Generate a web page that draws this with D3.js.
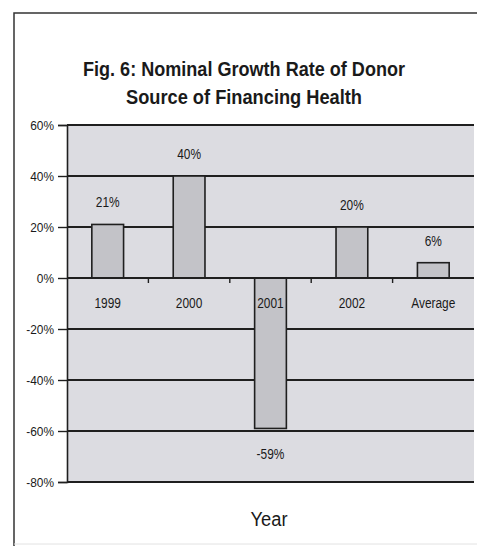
<!DOCTYPE html>
<html>
<head>
<meta charset="utf-8">
<script src="https://cdn.jsdelivr.net/npm/d3@7"></script>
<style>
  html, body { margin: 0; padding: 0; background: #ffffff; }
  svg { display: block; }
  text { font-family: "Liberation Sans", Arial, sans-serif; fill: #1a1a1a; }
</style>
</head>
<body>
<svg id="chart" width="477" height="546"></svg>
<script>
// Nominal growth rate of donor source of financing health, by year
const categories = ["1999", "2000", "2001", "2002", "Average"];
const growthRates = [21, 40, -59, 20, 6];
const dataLabels = ["21%", "40%", "-59%", "20%", "6%"];
const yTicks = [60, 40, 20, 0, -20, -40, -60, -80];
const titleLines = ["Fig. 6: Nominal Growth Rate of Donor", "Source of Financing Health"];
const xTitle = "Year";

const svg = d3.select("#chart");
const W = 477, H = 546;
const plot = { left: 67, right: 474, top: 125, bottom: 482 };

// Narrow lettering: squeeze each text horizontally around its anchor
function condense(sel, factor) {
  sel.each(function () {
    const len = this.getComputedTextLength();
    d3.select(this).attr("textLength", len * factor).attr("lengthAdjust", "spacingAndGlyphs");
  });
}

// Frame around the whole chart
svg.append("path")
  .attr("d", `M14,${H} L14,13 L${W},13`)
  .attr("fill", "none").attr("stroke", "#333").attr("stroke-width", 1.5);
svg.append("line")
  .attr("x1", 14).attr("x2", W).attr("y1", 544).attr("y2", 544)
  .attr("stroke", "#e2e2e2").attr("stroke-width", 1);

const x = d3.scaleBand().domain(categories)
  .range([plot.left, plot.right]).paddingInner(0.61).paddingOuter(0.305);
const xOuter = d3.scaleBand().domain(categories).range([plot.left, plot.right]);
const y = d3.scaleLinear().domain([-80, 60]).range([plot.bottom, plot.top]);

// Plot area background
svg.append("rect")
  .attr("x", plot.left).attr("y", plot.top)
  .attr("width", plot.right - plot.left).attr("height", plot.bottom - plot.top)
  .attr("fill", "#dcdce1");

// Horizontal gridlines
svg.append("g").selectAll("line").data(yTicks).join("line")
  .attr("x1", plot.left).attr("x2", plot.right)
  .attr("y1", d => y(d)).attr("y2", d => y(d))
  .attr("stroke", "#1f1f1f").attr("stroke-width", 1.8);

// Bars
svg.append("g").selectAll("rect").data(growthRates).join("rect")
  .attr("x", (d, i) => x(categories[i]))
  .attr("width", x.bandwidth())
  .attr("y", d => y(Math.max(0, d)))
  .attr("height", d => Math.abs(y(d) - y(0)))
  .attr("fill", "#c3c3c8").attr("stroke", "#1f1f1f").attr("stroke-width", 1.6);

// Value axis
const yAxis = d3.axisLeft(y).tickValues(yTicks).tickSize(9).tickFormat(d => d + "%");
const gy = svg.append("g").attr("transform", `translate(${plot.left},0)`).call(yAxis);
gy.select(".domain").attr("stroke", "#1f1f1f").attr("stroke-width", 1.6);
gy.selectAll(".tick line").attr("stroke", "#1f1f1f").attr("stroke-width", 1.4);
gy.selectAll(".tick text").attr("x", -13).attr("dy", "0.35em").attr("font-size", 13.5).attr("fill", "#1a1a1a")
  .style("font-family", "'Liberation Sans', Arial, sans-serif")
  .call(condense, 0.88);

// Category axis on the zero line, tick marks between categories
const boundaries = categories.slice(1).map(c => xOuter(c));
svg.append("g").selectAll("line").data(boundaries).join("line")
  .attr("x1", d => d).attr("x2", d => d)
  .attr("y1", y(0)).attr("y2", y(0) + 5)
  .attr("stroke", "#1f1f1f").attr("stroke-width", 1.4);
svg.append("line")
  .attr("x1", plot.left).attr("x2", plot.right).attr("y1", y(0)).attr("y2", y(0))
  .attr("stroke", "#1f1f1f").attr("stroke-width", 2);
svg.append("g").selectAll("text").data(categories).join("text")
  .attr("x", d => x(d) + x.bandwidth() / 2)
  .attr("y", y(0) + 30)
  .attr("text-anchor", "middle").attr("font-size", 14)
  .text(d => d)
  .call(condense, 0.85);

// Value labels
svg.append("g").selectAll("text").data(growthRates).join("text")
  .attr("x", (d, i) => x(categories[i]) + x.bandwidth() / 2)
  .attr("y", d => d >= 0 ? y(d) - 17 : y(d) + 31)
  .attr("text-anchor", "middle").attr("font-size", 14)
  .text((d, i) => dataLabels[i])
  .call(condense, 0.85);

// Title, two centred lines
const titleWidths = [322, 236];
svg.append("g").selectAll("text").data(titleLines).join("text")
  .attr("x", 244).attr("y", (d, i) => 76 + i * 28)
  .attr("text-anchor", "middle").attr("font-size", 21).attr("font-weight", "bold")
  .text(d => d)
  .attr("textLength", (d, i) => titleWidths[i]).attr("lengthAdjust", "spacingAndGlyphs");

// Axis title
svg.append("text")
  .attr("x", 269).attr("y", 526)
  .attr("text-anchor", "middle").attr("font-size", 20)
  .text(xTitle)
  .attr("textLength", 37).attr("lengthAdjust", "spacingAndGlyphs");
</script>
</body>
</html>
